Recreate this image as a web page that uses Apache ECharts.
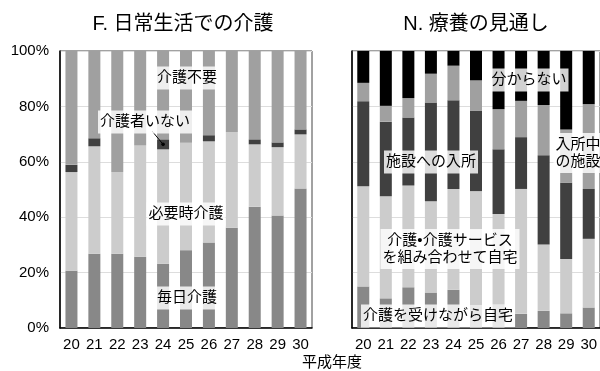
<!DOCTYPE html>
<html>
<head>
<meta charset="utf-8">
<script src="https://cdn.jsdelivr.net/npm/echarts@6/dist/echarts.min.js"></script>
<style>
  html, body { margin: 0; padding: 0; background: #fff; }
  #chart { width: 600px; height: 371px; }
</style>
</head>
<body>
<div id="chart"></div>
<script>
// 年度 (平成)
const years = ['20', '21', '22', '23', '24', '25', '26', '27', '28', '29', '30'];
const yTicks = [0, 20, 40, 60, 80, 100];

// F. 日常生活での介護 (%)
const careDaily     = [20.7, 26.8, 26.8, 25.7, 23.2, 28.1, 30.9, 36.2, 43.8, 40.6, 50.4];
const careAsNeeded  = [35.6, 38.8, 29.5, 40.2, 41.3, 38.8, 36.5, 34.6, 22.5, 24.7, 19.5];
const noCarer       = [2.6, 2.9, 0, 0, 3.6, 0, 2.2, 0, 1.8, 1.7, 1.8];
const noCareNeeded  = [41.1, 31.5, 43.7, 34.1, 31.9, 33.1, 30.4, 29.2, 31.9, 33.0, 28.3];

// N. 療養の見通し (%)
const homeWithCare    = [15.0, 10.7, 14.7, 12.8, 13.8, 8.6, 8.3, 5.1, 6.2, 5.3, 7.4];
const homeCombined    = [36.2, 36.9, 36.7, 33.0, 36.4, 40.8, 32.9, 45.1, 23.9, 19.6, 24.8];
const facilityEntry   = [30.7, 26.9, 24.6, 35.6, 32.0, 29.1, 23.3, 18.7, 32.3, 27.5, 18.0];
const currentFacility = [6.6, 5.7, 7.0, 10.4, 12.5, 10.9, 14.5, 13.1, 18.1, 19.3, 30.6];
const unknown         = [11.5, 19.8, 17.0, 8.2, 5.3, 10.6, 21.0, 18.0, 19.5, 28.3, 19.2];

const FONT = '"Liberation Sans", Arial, "Noto Sans CJK JP", sans-serif';
const C_DARKGRAY = '#888888';
const C_LIGHT = '#cccccc';
const C_DARK = '#404040';
const C_MID = '#a0a0a0';
const C_BLACK = '#000000';

const chart = echarts.init(document.getElementById('chart'), null, { renderer: 'canvas' });

function xAxisFor(gridIndex) {
  return {
    type: 'category', gridIndex, data: years,
    axisLine: { lineStyle: { color: '#000', width: 1.5 } },
    axisTick: { show: false },
    axisLabel: { color: '#000', fontSize: 15, fontFamily: FONT, margin: 9 }
  };
}
function yAxisFor(gridIndex, showLabels) {
  return {
    type: 'value', gridIndex, min: yTicks[0], max: yTicks[yTicks.length - 1], interval: 20,
    axisLine: { show: true, lineStyle: { color: '#000', width: 1.5 } },
    axisTick: { show: false },
    splitLine: { lineStyle: { color: '#dddddd', width: 1 } },
    axisLabel: { show: showLabels, color: '#000', fontSize: 15, fontFamily: FONT, margin: 11,
                 formatter: '{value}%' }
  };
}
function bar(name, data, color, idx, stack) {
  return {
    name, type: 'bar', data, stack, xAxisIndex: idx, yAxisIndex: idx,
    barWidth: 12, itemStyle: { color }, silent: true, animation: false
  };
}

const labelStyle = {
  font: '15px ' + FONT, fill: '#000', align: 'center', verticalAlign: 'middle',
  backgroundColor: 'rgba(255,255,255,0.82)', padding: [3, 2, 3, 2], lineHeight: 17
};
function note(text, x, y) {
  return { type: 'text', z: 100, x, y, style: Object.assign({ text }, labelStyle) };
}

chart.setOption({
  animation: false,
  grid: [
    { left: 60, top: 51, width: 252, bottom: 43, show: true, borderColor: '#444', borderWidth: 1 },
    { left: 352, top: 51, width: 253, bottom: 43, show: true, borderColor: '#444', borderWidth: 1 }
  ],
  xAxis: [xAxisFor(0), xAxisFor(1)],
  yAxis: [yAxisFor(0, true), yAxisFor(1, false)],
  series: [
    bar('毎日介護', careDaily, C_DARKGRAY, 0, 'f'),
    bar('必要時介護', careAsNeeded, C_LIGHT, 0, 'f'),
    bar('介護者いない', noCarer, C_DARK, 0, 'f'),
    bar('介護不要', noCareNeeded, C_MID, 0, 'f'),
    bar('介護を受けながら自宅', homeWithCare, C_DARKGRAY, 1, 'n'),
    bar('介護•介護サービスを組み合わせて自宅', homeCombined, C_LIGHT, 1, 'n'),
    bar('施設への入所', facilityEntry, C_DARK, 1, 'n'),
    bar('入所中の施設', currentFacility, C_MID, 1, 'n'),
    bar('分からない', unknown, C_BLACK, 1, 'n')
  ]
});

// 「介護者いない」の引出線は H24 の積み上げ区間の中央を指す
const i24 = years.indexOf('24');
const base24 = careDaily[i24] + careAsNeeded[i24];
const dot = chart.convertToPixel({ gridIndex: 0 }, [i24, base24 + noCarer[i24] / 2]);

chart.setOption({
  graphic: [
    { type: 'text', x: 183, y: 24, style: { text: 'F. 日常生活での介護', font: '20px ' + FONT,
      fill: '#000', align: 'center', verticalAlign: 'middle' } },
    { type: 'text', x: 476, y: 24, style: { text: 'N. 療養の見通し', font: '20px ' + FONT,
      fill: '#000', align: 'center', verticalAlign: 'middle' } },
    { type: 'text', x: 332, y: 363, style: { text: '平成年度', font: '15px ' + FONT,
      fill: '#000', align: 'center', verticalAlign: 'middle' } },

    note('介護不要', 187, 78),
    note('介護者いない', 145, 122),
    note('必要時介護', 186, 214),
    note('毎日介護', 187, 298),
    { type: 'line', z: 99, shape: { x1: 152, y1: 131, x2: dot[0], y2: dot[1] },
      style: { stroke: '#000', lineWidth: 1 } },
    { type: 'circle', z: 101, shape: { cx: dot[0], cy: dot[1], r: 1.8 }, style: { fill: '#000' } },

    note('分からない', 529, 80),
    note('施設への入所', 431, 162),
    note('入所中\nの施設', 578, 153),
    note('介護•介護サービス\nを組み合わせて自宅', 450, 249),
    note('介護を受けながら自宅', 438, 316)
  ]
});
</script>
</body>
</html>
